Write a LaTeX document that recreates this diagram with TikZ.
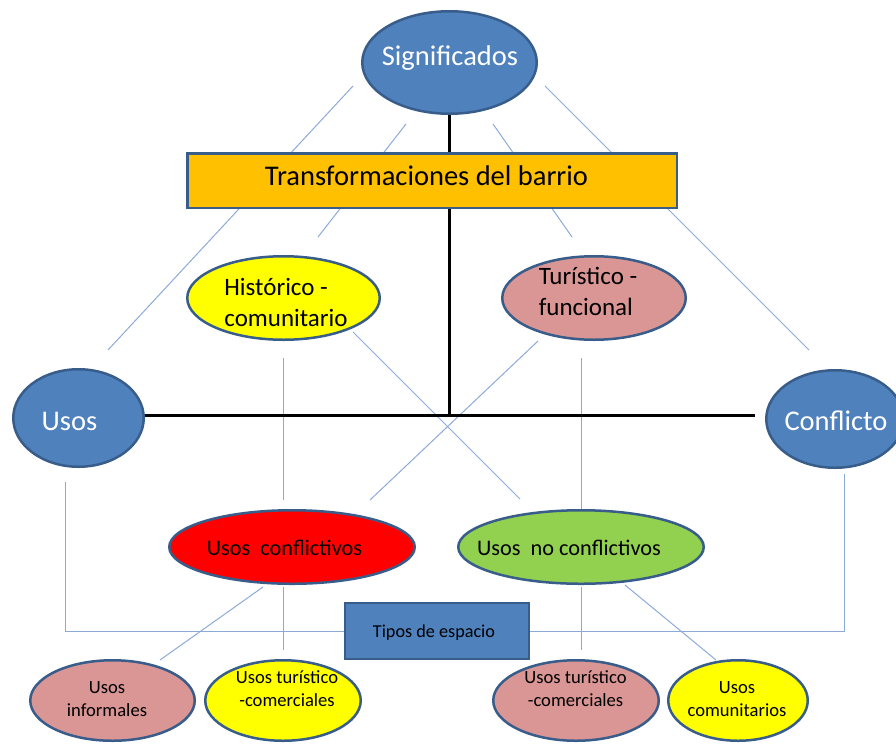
\documentclass[tikz,border=0pt]{standalone}
\usepackage{fontspec}
\setmainfont{Carlito}
\usetikzlibrary{shapes.geometric}
\pgfdeclarelayer{background}
\pgfsetlayers{background,main}
\definecolor{bfill}{HTML}{4F81BD}
\definecolor{bdraw}{HTML}{385D8A}
\definecolor{gold}{HTML}{FFC000}
\definecolor{pinkf}{HTML}{D99694}
\definecolor{yel}{HTML}{FFFF00}
\definecolor{grn}{HTML}{92D050}
\definecolor{thinc}{RGB}{140,170,215}
\begin{document}
\begin{tikzpicture}[x=1pt,y=-1pt,
  ell/.style={ellipse, draw=bdraw, line width=2.5pt, inner sep=0pt},
  boxr/.style={rectangle, draw=bdraw, line width=2.5pt, inner sep=0pt},
  txt/.style={inner sep=0pt, align=center},
  txtl/.style={inner sep=0pt, align=left},
  bigf/.style={font=\fontsize{28.5}{33}\selectfont},
  midf/.style={font=\fontsize{25}{31}\selectfont},
  ucff/.style={font=\fontsize{22.3}{26}\selectfont},
  smf/.style={font=\fontsize{18.6}{23}\selectfont},
  thinline/.style={draw=thinc, line width=1pt},
  heavy/.style={draw=black, line width=3pt}]
\useasboundingbox (0,0) rectangle (896,745);

% ---- nodes ----
\node[ell, fill=bfill, minimum width=174.5pt, minimum height=102.5pt] (sig) at (449.5,62.5) {};
\node[txt, text=white, bigf, anchor=base] (sigt) at (450,65) {Significados};

\node[boxr, fill=gold, minimum width=489.5pt, minimum height=54.5pt] (trans) at (432,180.5) {};
\node[txt, bigf, anchor=base] (transt) at (426.5,185) {Transformaciones del barrio};

\node[ell, fill=yel, minimum width=192.5pt, minimum height=83.5pt] (hist) at (283.5,298) {};
\node[txtl, midf] (histt) at (286,302.5) {Histórico -\\comunitario};

\node[ell, fill=pinkf, minimum width=183.5pt, minimum height=83.5pt] (tur) at (594,298) {};
\node[txtl, midf] (turt) at (588,291.5) {Turístico -\\funcional};

\node[ell, fill=bfill, minimum width=130.5pt, minimum height=97.5pt] (usos) at (78.5,418) {};
\node[txt, text=white, bigf, anchor=base] (usost) at (69.5,430) {Usos};

\node[ell, fill=bfill, minimum width=137.5pt, minimum height=97.5pt] (conf) at (835,419) {};
\node[txt, text=white, bigf, anchor=base] (conft) at (836,430) {Conflicto};

\node[ell, fill=red, minimum width=245.5pt, minimum height=73.5pt] (ucf) at (292,547) {};
\node[txt, ucff, anchor=base] (ucft) at (284.5,555) {Usos\ \ conflictivos};

\node[ell, fill=grn, minimum width=245.5pt, minimum height=73.5pt] (unc) at (581,547) {};
\node[txt, ucff, anchor=base] (unct) at (569,555) {Usos\ \ no conflictivos};

\node[boxr, fill=bfill, line width=2pt, minimum width=184pt, minimum height=56pt] (tipos) at (437,631) {};
\node[txt, font=\fontsize{18.2}{21}\selectfont, anchor=base] (tipost) at (434,637) {Tipos de espacio};

\node[ell, fill=pinkf, minimum width=164.5pt, minimum height=80.5pt] (inf) at (112.5,700.5) {};
\node[txt, smf] (inft) at (107,699.5) {Usos\\informales};

\node[ell, fill=yel, minimum width=155.5pt, minimum height=80.5pt] (tca) at (283,700.5) {};
\node[txt, smf] (tcat) at (287,689) {Usos turístico\\-comerciales};

\node[ell, fill=pinkf, minimum width=165.5pt, minimum height=80.5pt] (tcb) at (576,700.5) {};
\node[txt, smf] (tcbt) at (575.5,689) {Usos turístico\\-comerciales};

\node[ell, fill=yel, minimum width=139.5pt, minimum height=80.5pt] (com) at (738,700.5) {};
\node[txt, smf] (comt) at (737,699.5) {Usos\\comunitarios};

% ---- free line ends ----
\coordinate (a1) at (353,86);   \coordinate (a2) at (108,350);
\coordinate (b1) at (406,124);  \coordinate (b2) at (318,237);
\coordinate (c1) at (493,124);  \coordinate (c2) at (572,237);
\coordinate (d1) at (545,86);   \coordinate (d2) at (809,350);
\coordinate (e1) at (353,332);  \coordinate (e2) at (520,499);
\coordinate (f1) at (538,341);  \coordinate (f2) at (370,500);
\coordinate (g1) at (263,587);  \coordinate (g2) at (160,660);
\coordinate (h1) at (625,585);  \coordinate (h2) at (716,660);
\coordinate (v1a) at (283,358); \coordinate (v1b) at (283,500);
\coordinate (v2a) at (283,587); \coordinate (v2b) at (283,650);
\coordinate (v3a) at (581,358); \coordinate (v3b) at (581,509);
\coordinate (v4a) at (581,587); \coordinate (v4b) at (581,650);
\coordinate (pu) at (65,482);
\coordinate (pc) at (844,474);
\coordinate (hl) at (135,415);
\coordinate (hr) at (755,415);
\coordinate (hub) at (449.5,415);

\begin{pgfonlayer}{background}
  \draw[thinline] (a1) -- (a2);
  \draw[thinline] (b1) -- (b2);
  \draw[thinline] (c1) -- (c2);
  \draw[thinline] (d1) -- (d2);
  \draw[thinline] (e1) -- (e2);
  \draw[thinline] (f1) -- (f2);
  \draw[thinline] (g1) -- (g2);
  \draw[thinline] (h1) -- (h2);
  \draw[thinline] (v1a) -- (v1b);
  \draw[thinline] (v2a) -- (v2b);
  \draw[thinline] (v3a) -- (v3b);
  \draw[thinline] (v4a) -- (v4b);
  \draw[thinline] (pu) |- (tipos.west);
  \draw[thinline] (tipos.east) -| (pc);
  \draw[heavy] (sig.south) -- (sig.south |- trans.north);
  \draw[heavy] (sig.south |- trans.south) -- (hub);
  \draw[heavy] (hl) -- (hr);
\end{pgfonlayer}
\end{tikzpicture}
\end{document}
